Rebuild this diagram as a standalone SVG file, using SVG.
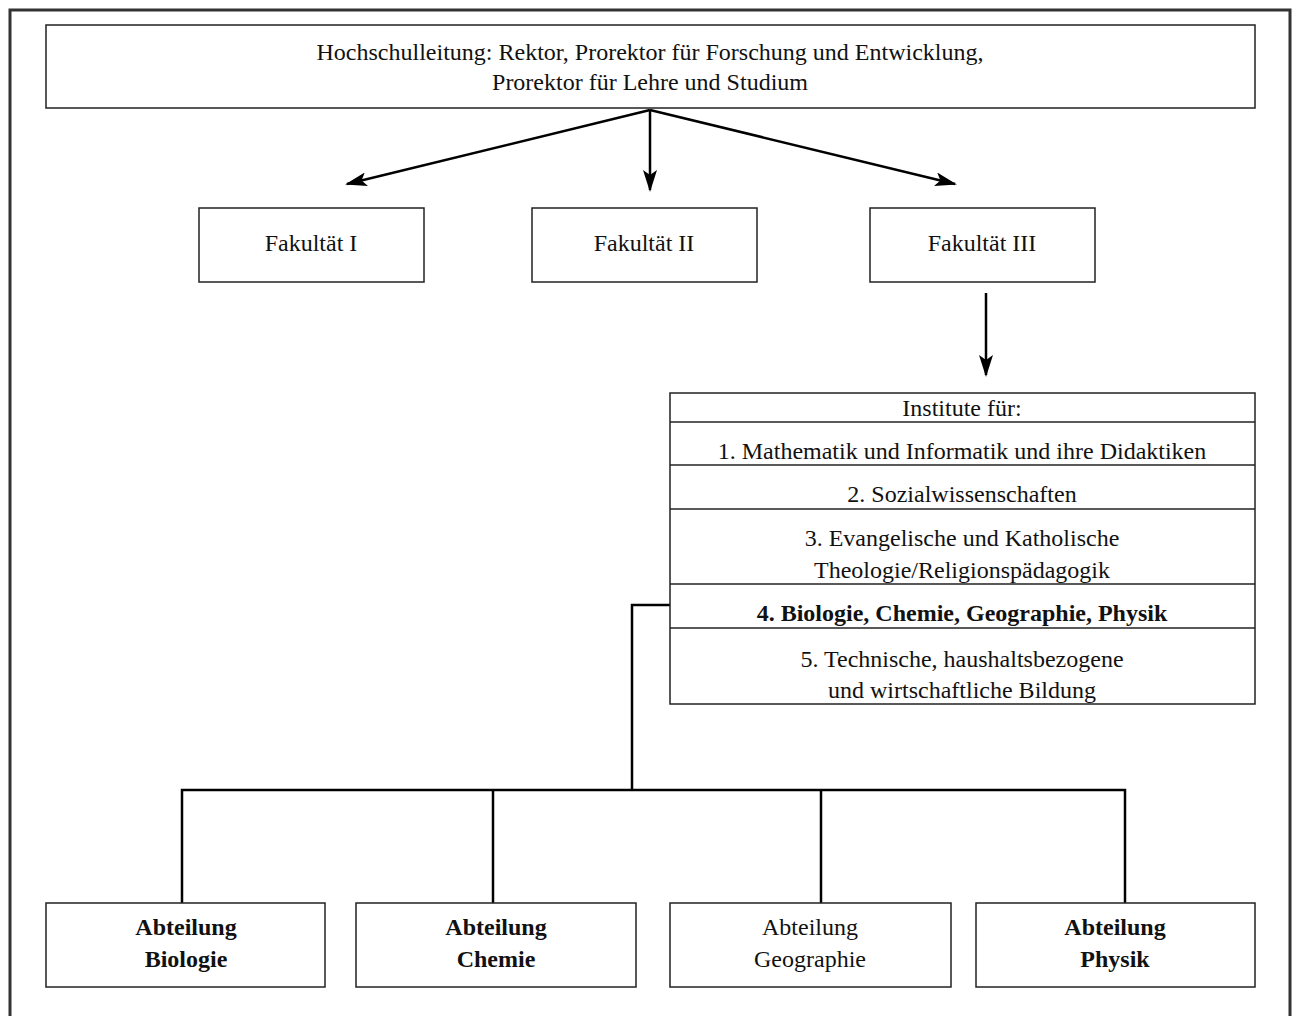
<svg xmlns="http://www.w3.org/2000/svg" width="1298" height="1016" viewBox="0 0 1298 1016">
  <style>
    .box { fill: #fff; stroke: #222; stroke-width: 1.5; }
    .sep { stroke: #222; stroke-width: 1.5; }
    .wire { fill: none; stroke: #000; stroke-width: 2.5; }
    text { font-family: "Liberation Serif", "DejaVu Serif", serif; font-size: 24px; fill: #111; text-anchor: middle; }
    .b { font-weight: bold; }
  </style>
  <defs>
    <marker id="arrow" viewBox="0 0 22 14" refX="20" refY="7" markerWidth="22" markerHeight="14" markerUnits="userSpaceOnUse" orient="auto">
      <path d="M0,0 L22,7 L0,14 L5,7 z" fill="#000"/>
    </marker>
  </defs>

  <rect width="1298" height="1016" fill="#fff"/>
  <!-- frame -->
  <path d="M10,1020 V10 H1290 V1020" fill="none" stroke="#333" stroke-width="3"/>

  <!-- connectors -->
  <g id="connectors">
    <line class="wire" x1="650" y1="110" x2="347" y2="184" marker-end="url(#arrow)"/>
    <line class="wire" x1="650" y1="110" x2="650" y2="190" marker-end="url(#arrow)"/>
    <line class="wire" x1="650" y1="110" x2="955" y2="184" marker-end="url(#arrow)"/>
    <line class="wire" x1="986" y1="293" x2="986" y2="375" marker-end="url(#arrow)"/>
    <path class="wire" d="M670,605 H632 V790"/>
    <path class="wire" d="M182,903 V790 H1125 V903"/>
    <line class="wire" x1="493" y1="790" x2="493" y2="903"/>
    <line class="wire" x1="821" y1="790" x2="821" y2="903"/>
  </g>

  <g id="hochschulleitung">
    <rect class="box" x="46" y="25" width="1209" height="83"/>
    <text x="650" y="60">Hochschulleitung: Rektor, Prorektor für Forschung und Entwicklung,</text>
    <text x="650" y="90">Prorektor für Lehre und Studium</text>
  </g>

  <g id="fakultaet-1">
    <rect class="box" x="199" y="208" width="225" height="74"/>
    <text x="311" y="251">Fakultät I</text>
  </g>
  <g id="fakultaet-2">
    <rect class="box" x="532" y="208" width="225" height="74"/>
    <text x="644" y="251">Fakultät II</text>
  </g>
  <g id="fakultaet-3">
    <rect class="box" x="870" y="208" width="225" height="74"/>
    <text x="982" y="251">Fakultät III</text>
  </g>

  <g id="institute">
    <rect class="box" x="670" y="393" width="585" height="311"/>
    <line class="sep" x1="670" y1="422" x2="1255" y2="422"/>
    <line class="sep" x1="670" y1="465" x2="1255" y2="465"/>
    <line class="sep" x1="670" y1="509" x2="1255" y2="509"/>
    <line class="sep" x1="670" y1="584" x2="1255" y2="584"/>
    <line class="sep" x1="670" y1="628" x2="1255" y2="628"/>
    <text x="962" y="416">Institute für:</text>
    <text x="962" y="459">1. Mathematik und Informatik und ihre Didaktiken</text>
    <text x="962" y="502">2. Sozialwissenschaften</text>
    <text x="962" y="546">3. Evangelische und Katholische</text>
    <text x="962" y="578">Theologie/Religionspädagogik</text>
    <text class="b" x="962" y="621">4. Biologie, Chemie, Geographie, Physik</text>
    <text x="962" y="667">5. Technische, haushaltsbezogene</text>
    <text x="962" y="698">und wirtschaftliche Bildung</text>
  </g>

  <g id="abt-biologie">
    <rect class="box" x="46" y="903" width="279" height="84"/>
    <text class="b" x="186" y="935">Abteilung</text>
    <text class="b" x="186" y="967">Biologie</text>
  </g>
  <g id="abt-chemie">
    <rect class="box" x="356" y="903" width="280" height="84"/>
    <text class="b" x="496" y="935">Abteilung</text>
    <text class="b" x="496" y="967">Chemie</text>
  </g>
  <g id="abt-geographie">
    <rect class="box" x="670" y="903" width="281" height="84"/>
    <text x="810" y="935">Abteilung</text>
    <text x="810" y="967">Geographie</text>
  </g>
  <g id="abt-physik">
    <rect class="box" x="976" y="903" width="279" height="84"/>
    <text class="b" x="1115" y="935">Abteilung</text>
    <text class="b" x="1115" y="967">Physik</text>
  </g>
</svg>
